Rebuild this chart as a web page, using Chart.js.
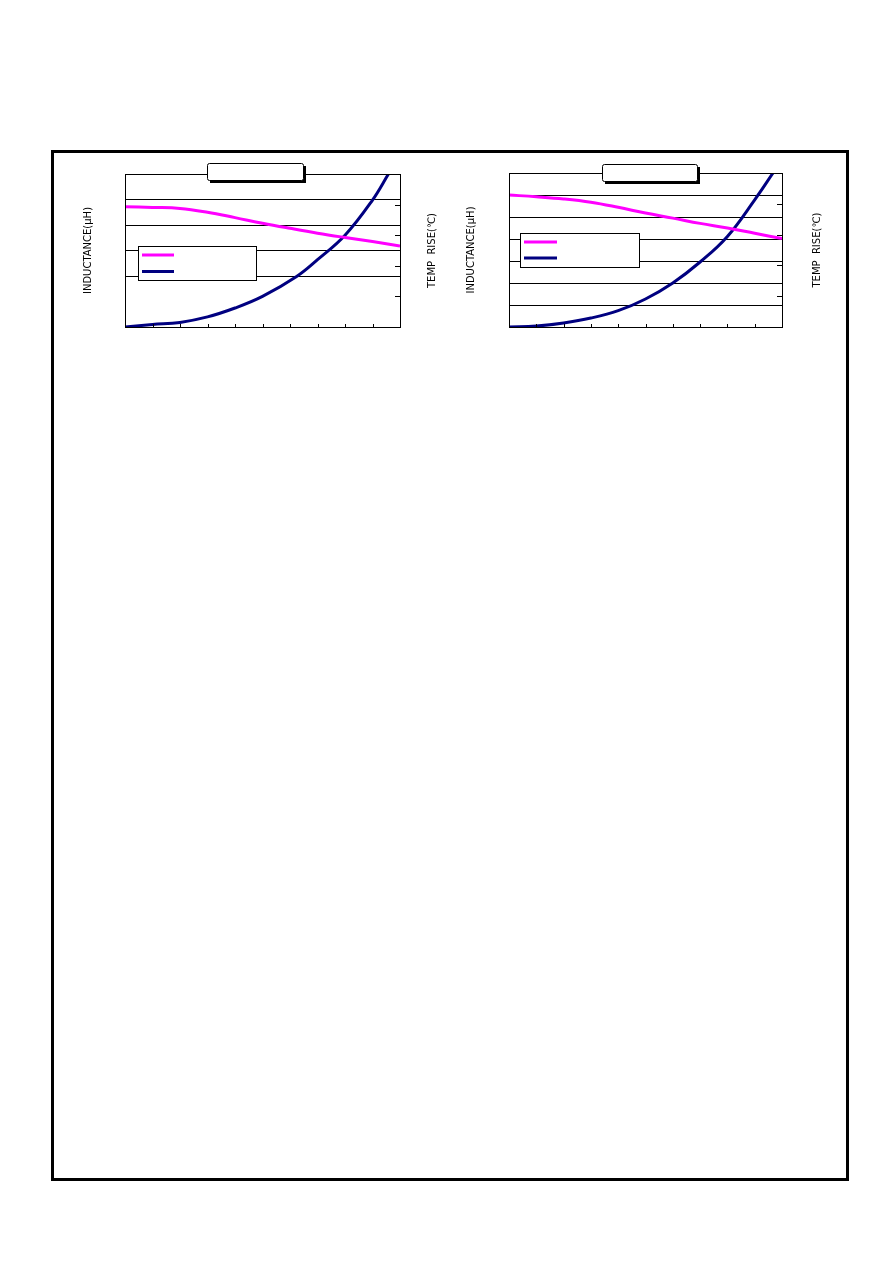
<!DOCTYPE html>
<html>
<head>
<meta charset="utf-8">
<script src="https://cdn.jsdelivr.net/npm/chart.js@4.4.1/dist/chart.umd.min.js"></script>
<style>
  html, body { margin: 0; padding: 0; background: #fff; }
  body { width: 892px; height: 1263px; position: relative; overflow: hidden; }
  #frame {
    position: absolute; left: 51px; top: 150px; width: 798px; height: 1031px;
    box-sizing: border-box; border: 3px solid #000;
  }
  .chart-box { position: absolute; width: 400px; height: 185px; }
</style>
</head>
<body>
<div id="frame"></div>
<div class="chart-box" style="left:60px; top:155px;"><canvas id="chart-a" width="400" height="185"></canvas></div>
<div class="chart-box" style="left:440px; top:155px;"><canvas id="chart-b" width="400" height="185"></canvas></div>

<script>
// Two inductance / temp-rise curves vs. current (labels blanked in the source).

// --------------- Data ---------------

const X_TICKS = [0, 1, 2, 3, 4, 5, 6, 7, 8, 9, 10];

// Left chart
const A_INDUCT_X = [0, 1, 2, 3, 4, 5, 6, 7, 8, 9, 10];
const A_INDUCT   = [4.72, 4.69, 4.65, 4.5, 4.29, 4.07, 3.87, 3.68, 3.51, 3.35, 3.18];
const A_TEMP_X   = [0, 1, 2, 3, 4, 5, 6.24, 7, 8, 9, 9.58];
const A_TEMP     = [0, 0.08, 0.15, 0.33, 0.62, 1.0, 1.65, 2.2, 3.0, 4.15, 5.0];

// Right chart
const B_INDUCT_X = [0, 1, 2, 3, 4, 5, 6, 7, 8, 9, 10];
const B_INDUCT   = [6.0, 5.92, 5.82, 5.67, 5.44, 5.18, 4.95, 4.71, 4.5, 4.26, 4.02];
const B_TEMP_X   = [0, 1, 2, 3, 4, 5, 6, 7, 8, 9, 9.67];
const B_TEMP     = [0, 0.03, 0.13, 0.29, 0.53, 0.91, 1.43, 2.11, 2.94, 4.13, 5.0];

const Y_LABEL  = "INDUCTANCE(μH)";
const Y1_LABEL = "TEMP  RISE(℃)";

const PINK = "#ff00ff";
const NAVY = "#000080";

function toPoints(xs, ys) {
  return xs.map((x, i) => ({ x, y: ys[i] }));
}

// --------------- Decorations ---------------

// Plot frame, inward ticks, rotated axis titles, empty title box, legend box.
const decor = {
  id: "decor",
  afterDraw(chart, args, o) {
    const ctx = chart.ctx;
    const a = chart.chartArea;
    const L = Math.round(a.left), T = Math.round(a.top);
    const R = Math.round(a.right), B = Math.round(a.bottom);
    ctx.save();
    ctx.strokeStyle = "#000";
    ctx.lineWidth = 1;
    ctx.strokeRect(L + 0.5, T + 0.5, R - L, B - T);

    // inward ticks on x and right axis
    ctx.beginPath();
    const xs = chart.scales.x;
    xs.ticks.forEach(t => {
      const px = Math.round(xs.getPixelForValue(t.value)) + 0.5;
      ctx.moveTo(px, B); ctx.lineTo(px, B - 3);
    });
    const yr = chart.scales.y1;
    yr.ticks.forEach(t => {
      const py = Math.round(yr.getPixelForValue(t.value)) + 0.5;
      ctx.moveTo(R, py); ctx.lineTo(R - 5, py);
    });
    ctx.stroke();

    // axis titles, both read bottom-to-top
    ctx.fillStyle = "#000";
    ctx.font = "10px 'DejaVu Sans'";
    ctx.textAlign = "center";
    ctx.textBaseline = "middle";
    const cy = (a.top + a.bottom) / 2;
    [[a.left - o.leftGap, Y_LABEL], [a.right + o.rightGap, Y1_LABEL]].forEach(([x, txt]) => {
      ctx.save();
      ctx.translate(x, cy);
      ctx.rotate(-Math.PI / 2);
      ctx.fillText(txt, 0, 0);
      ctx.restore();
    });

    // title box with drop shadow
    const tb = o.titleBox;
    const tx = L + tb.dx, ty = T + tb.dy;
    ctx.fillStyle = "#000";
    ctx.fillRect(tx + 3, ty + 3, tb.w, tb.h);
    ctx.fillStyle = "#fff";
    ctx.beginPath();
    ctx.roundRect(tx + 0.5, ty + 0.5, tb.w, tb.h, 2);
    ctx.fill();
    ctx.stroke();

    // legend box
    const lg = o.legend;
    const lx = L + lg.dx, ly = T + lg.dy;
    ctx.fillStyle = "#fff";
    ctx.fillRect(lx + 0.5, ly + 0.5, lg.w, lg.h);
    ctx.strokeRect(lx + 0.5, ly + 0.5, lg.w, lg.h);
    chart.data.datasets.forEach((ds, i) => {
      const yy = ly + lg.rowY[i];
      ctx.strokeStyle = ds.borderColor;
      ctx.lineWidth = 3;
      ctx.beginPath();
      ctx.moveTo(lx + lg.lineX0, yy);
      ctx.lineTo(lx + lg.lineX1, yy);
      ctx.stroke();
    });
    ctx.restore();
  },
};

// --------------- Charts ---------------

function makeChart(id, inductPts, tempPts, yMax, hiddenGrid, padding, decorOpts) {
  const ctx = document.getElementById(id).getContext("2d");
  return new Chart(ctx, {
    type: "line",
    data: {
      datasets: [
        { label: "", data: inductPts, yAxisID: "y", borderColor: PINK,
          borderWidth: 3, pointRadius: 0, tension: 0.4, fill: false },
        { label: "", data: tempPts, yAxisID: "y1", borderColor: NAVY,
          borderWidth: 3, pointRadius: 0, tension: 0.4, fill: false },
      ],
    },
    options: {
      responsive: false,
      animation: false,
      layout: { padding },
      plugins: {
        legend: { display: false },
        tooltip: { enabled: false },
        decor: decorOpts,
      },
      scales: {
        x: {
          type: "linear", min: X_TICKS[0], max: X_TICKS[X_TICKS.length - 1],
          afterBuildTicks: s => { s.ticks = X_TICKS.map(v => ({ value: v })); },
          ticks: { display: false },
          grid: { drawOnChartArea: false, drawTicks: false },
          border: { color: "#000" },
        },
        y: {
          position: "left", min: 0, max: yMax,
          ticks: { display: false, stepSize: 1 },
          grid: {
            drawTicks: false, lineWidth: 1,
            color: c => (hiddenGrid.includes(c.tick.value) ? "rgba(0,0,0,0)" : "#000"),
          },
          border: { color: "#000" },
        },
        y1: {
          position: "right", min: 0, max: 5,
          ticks: { display: false, stepSize: 1 },
          grid: { drawOnChartArea: false, drawTicks: false },
          border: { color: "#000" },
        },
      },
    },
    plugins: [decor],
  });
}

makeChart("chart-a", toPoints(A_INDUCT_X, A_INDUCT), toPoints(A_TEMP_X, A_TEMP), 6, [1],
  { left: 65, right: 60, top: 19, bottom: 13 },
  {
    leftGap: 37, rightGap: 32,
    titleBox: { dx: 82, dy: -11, w: 96, h: 17 },
    legend: { dx: 13, dy: 72, w: 118, h: 34, rowY: [9, 25.5], lineX0: 4, lineX1: 36 },
  });

makeChart("chart-b", toPoints(B_INDUCT_X, B_INDUCT), toPoints(B_TEMP_X, B_TEMP), 7, [],
  { left: 69, right: 58, top: 18, bottom: 13 },
  {
    leftGap: 38, rightGap: 35,
    titleBox: { dx: 93, dy: -9, w: 95, h: 17 },
    legend: { dx: 11, dy: 60, w: 119, h: 34, rowY: [9, 25], lineX0: 4, lineX1: 37 },
  });
</script>
</body>
</html>
